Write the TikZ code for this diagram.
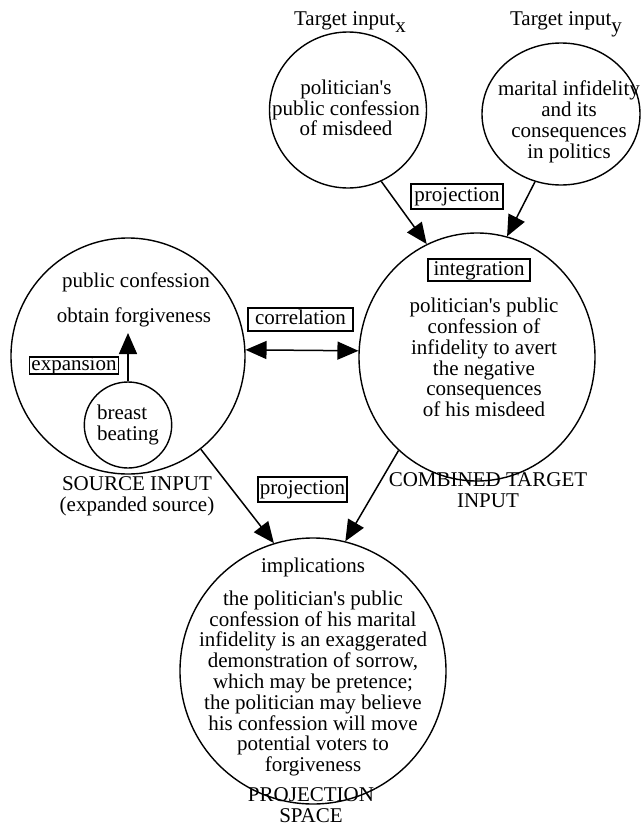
\documentclass[tikz,border=0pt]{standalone}
\usepackage{fontspec}
\setmainfont{Liberation Serif}[Ligatures=TeXOff]
\usetikzlibrary{arrows.meta,shapes.geometric}

\begin{document}
\begin{tikzpicture}[x=1pt,y=1pt,
  font=\fontsize{21}{20.8}\selectfont,
  space/.style={draw,line width=1.4pt,ellipse,inner sep=0pt},
  txt/.style={align=center,inner sep=0pt},
  tag/.style={draw,line width=1.4pt,inner xsep=2pt,inner ysep=0pt,
    text height=14pt,text depth=4pt},
  head/.style={Triangle[length=21pt,width=18pt]},
  link/.style={line width=1.5pt,-{Triangle[length=21pt,width=18pt]}},
  duallink/.style={line width=1.5pt,
    {Triangle[length=21pt,width=18pt]}-{Triangle[length=21pt,width=18pt]}},
]
\useasboundingbox (0,0) rectangle (641,-827);

% mental spaces
\node[space,minimum width=157pt,minimum height=156pt] (tx) at (348,-110) {};
\node[space,minimum width=158pt,minimum height=142pt] (ty) at (561,-114) {};
\node[space,minimum width=234pt,minimum height=236pt] (src) at (128,-356) {};
\node[space,minimum width=236pt,minimum height=248pt] (comb) at (477,-357) {};
\node[space,minimum width=266pt,minimum height=266pt] (proj) at (313,-671) {};
\node[space,minimum width=82pt,minimum height=86pt,align=left] (breast) at (128,-425)
  {breast\\beating};

% target inputs
\node[anchor=base] (txlabel) at (350,-25) {Target input\raisebox{-7pt}{x}};
\node[anchor=base] (tylabel) at (566,-25) {Target input\raisebox{-7pt}{y}};
\node[txt] (txtext) at (346,-108) {politician's\\public confession\\of misdeed};
\node[txt] (tytext) at (569,-122) {marital infidelity\\and its\\consequences\\in politics};

% source input
\node[txt] (pubconf) at (136,-282) {public confession};
\node[txt] (obtain) at (134,-317) {obtain forgiveness};
\node[tag,text height=12pt,text depth=3pt,minimum height=17pt] (expansion) at (74,-365.5) {expansion};
\node[txt] (srclabel) at (137,-496) {SOURCE INPUT\\(expanded source)};
\coordinate (expTip) at (128,-333);

% combined target input
\node[tag,minimum width=102pt,minimum height=22pt] (integration) at (479,-270) {integration};
\node[txt] (combtext) at (484,-357.5) {politician's public\\confession of\\infidelity to avert\\the negative\\consequences\\of his misdeed};
\node[txt] (comblabel) at (488,-490) {COMBINED TARGET\\INPUT};

% projection space
\node[txt] (implications) at (313,-567) {implications};
\node[txt] (projtext) at (313,-683.5) {the politician's public\\confession of his marital\\infidelity is an exaggerated\\demonstration of sorrow,\\which may be pretence;\\the politician may believe\\his confession will move\\potential voters to\\forgiveness};
\node[txt] (projlabel) at (311,-805) {PROJECTION\\SPACE};

% relation tags
\node[tag,minimum width=105pt,minimum height=23pt] (correlation) at (300.5,-319.5) {correlation};
\node[tag,minimum width=92pt,minimum height=25pt] (projtop) at (457,-196.5) {projection};
\node[tag,minimum width=89pt,minimum height=25pt] (projlow) at (302.5,-489.5) {projection};

% connectors
\draw[link] (breast) -- (expTip);
\draw[duallink] (src.3) -- (comb.177);
\draw[link] (tx.-65) -- (comb.114);
\draw[link] (ty.-111) -- (comb.76);
\draw[link] (src.-52) -- (proj.107);
\draw[link] (comb.-130) -- (proj.76);
\end{tikzpicture}
\end{document}
